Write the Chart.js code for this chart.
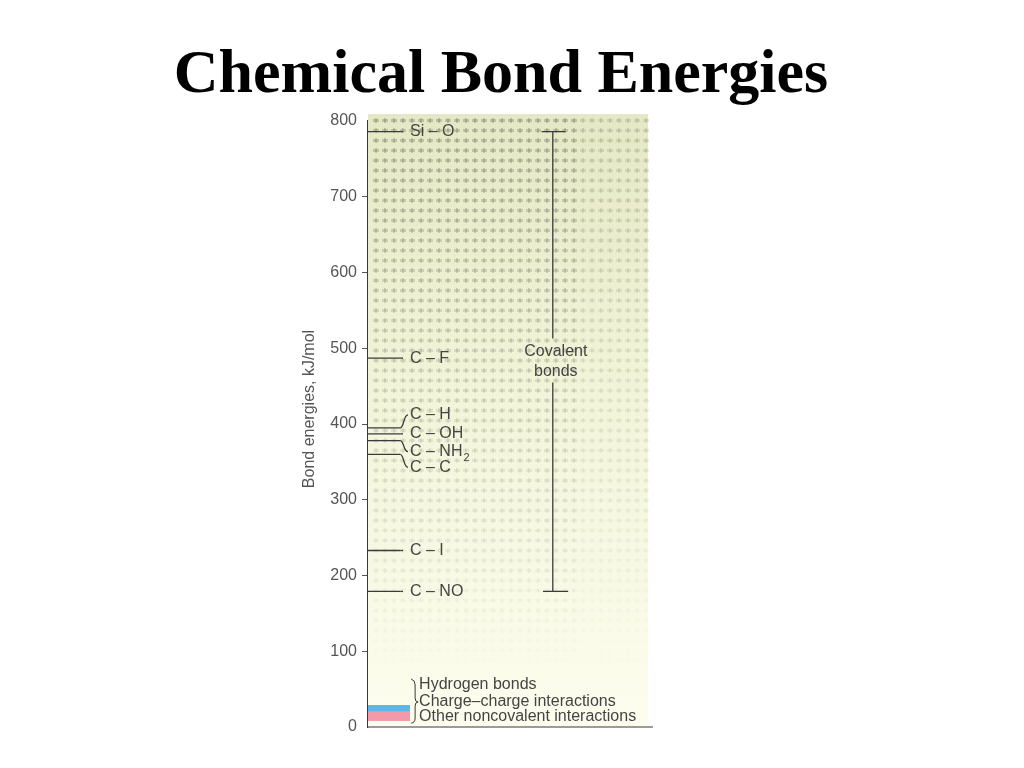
<!DOCTYPE html>
<html>
<head>
<meta charset="utf-8">
<title>Chemical Bond Energies</title>
<script src="https://cdn.jsdelivr.net/npm/chart.js@4.4.1/dist/chart.umd.min.js"></script>
<style>
  html, body { margin: 0; padding: 0; background: #fff; }
  #wrap { width: 1024px; height: 768px; }
</style>
</head>
<body>
<div id="wrap"><canvas id="chart" width="1024" height="768"></canvas></div>
<script>
// Bond energies (kJ/mol)
const bondLabels = ['Si – O', 'C – F', 'C – H', 'C – OH', 'C – NH_2', 'C – C', 'C – I', 'C – NO'];
const bondEnergies = [786, 487, 395, 387, 378, 360, 233, 179];

// Noncovalent interactions at the foot of the scale
const bandLabels = ['Hydrogen bonds', 'Charge–charge interactions', 'Other noncovalent interactions'];
const bandLow = [20, 8];
const bandHigh = [29, 20];

const yTicks = [0, 100, 200, 300, 400, 500, 600, 700, 800];

// label nudges (px) for the crowded C-H ... C-C group
const labelShift = [0, 0, -13, 0, 11, 13, 0, 0];

const SANS = '"Liberation Sans", Arial, sans-serif';
const INK = '#3a3a3a';

const figurePlugin = {
  id: 'figure',
  beforeDatasetsDraw(chart) {
    const { ctx, chartArea: a, scales: { x, y } } = chart;
    const top = a.top - 7;
    ctx.save();
    // tinted paper
    const g = ctx.createLinearGradient(0, top, 0, a.bottom);
    g.addColorStop(0, '#e5e8c4');
    g.addColorStop(0.45, '#f2f4d9');
    g.addColorStop(1, '#fdfdee');
    ctx.fillStyle = g;
    ctx.fillRect(a.left, top, a.right - a.left, a.bottom - top);
    // halftone screen, fading downwards
    for (let py = top + 5; py < a.bottom - 40; py += 10) {
      const k = 1 - (py - top) / (a.bottom - top - 60);
      if (k <= 0) break;
      for (let px = a.left + 5; px < a.right - 4; px += 9) {
        const fade = px > a.right - 70 ? 0.55 : 1;
        ctx.fillStyle = `rgba(105,110,90,${(0.32 * k * fade).toFixed(3)})`;
        ctx.fillRect(px, py, 6, 3);
        ctx.fillRect(px + 2, py - 1, 2, 5);
      }
    }
    // noncovalent bands
    const bx0 = x.getPixelForValue(0), bx1 = x.getPixelForValue(15);
    const colors = ['#5db6e4', '#f29aaa'];
    bandLow.forEach((lo, i) => {
      const y0 = y.getPixelForValue(bandHigh[i]);
      const y1 = y.getPixelForValue(lo);
      ctx.fillStyle = colors[i];
      ctx.fillRect(bx0, y0, bx1 - bx0, y1 - y0);
    });
    ctx.restore();
  },
  afterDatasetsDraw(chart) {
    const { ctx, chartArea: a, scales: { x, y } } = chart;
    ctx.save();
    ctx.strokeStyle = INK;
    ctx.lineWidth = 1.3;
    ctx.fillStyle = '#444';
    ctx.textBaseline = 'middle';
    ctx.textAlign = 'left';
    const lx = x.getPixelForValue(15);
    const ex = x.getPixelForValue(11.5);

    // connectors and bond labels
    bondEnergies.forEach((v, i) => {
      const py = y.getPixelForValue(v);
      const ty = py + labelShift[i];
      ctx.beginPath();
      ctx.moveTo(ex, py);
      if (labelShift[i] === 0) {
        ctx.lineTo(lx - 7, py);
      } else {
        ctx.bezierCurveTo(ex + 4, py, ex + 3, ty, lx - 2, ty);
      }
      ctx.stroke();

      const [main, sub] = bondLabels[i].split('_');
      ctx.font = '16px ' + SANS;
      ctx.fillText(main, lx, ty);
      if (sub) {
        const w = ctx.measureText(main).width;
        ctx.font = '11px ' + SANS;
        ctx.fillText(sub, lx + w + 1, ty + 6);
      }
    });

    // covalent bracket
    const cx = x.getPixelForValue(66);
    const yTop = y.getPixelForValue(Math.max(...bondEnergies));
    const yBot = y.getPixelForValue(Math.min(...bondEnergies));
    const mid = (yTop + yBot) / 2;
    ctx.beginPath();
    ctx.moveTo(x.getPixelForValue(62), yTop); ctx.lineTo(x.getPixelForValue(70.5), yTop);
    ctx.moveTo(cx, yTop); ctx.lineTo(cx, mid - 23);
    ctx.moveTo(cx, mid + 21); ctx.lineTo(cx, yBot);
    ctx.moveTo(x.getPixelForValue(62.5), yBot); ctx.lineTo(x.getPixelForValue(71.5), yBot);
    ctx.stroke();
    ctx.font = '16px ' + SANS;
    ctx.textAlign = 'center';
    ctx.fillText('Covalent', cx + 3, mid - 10);
    ctx.fillText('bonds', cx + 3, mid + 10);

    // noncovalent labels with a brace
    const b = a.bottom;
    const bx = x.getPixelForValue(15.4);
    ctx.lineWidth = 1;
    ctx.beginPath();
    ctx.moveTo(bx, b - 48);
    ctx.quadraticCurveTo(bx + 4, b - 47, bx + 4, b - 42);
    ctx.lineTo(bx + 4, b - 29);
    ctx.quadraticCurveTo(bx + 4, b - 25, bx + 7, b - 25);
    ctx.quadraticCurveTo(bx + 4, b - 25, bx + 4, b - 21);
    ctx.lineTo(bx + 4, b - 9);
    ctx.quadraticCurveTo(bx + 4, b - 4, bx, b - 4);
    ctx.stroke();
    ctx.textAlign = 'left';
    const ly = [b - 42, b - 25, b - 10];
    bandLabels.forEach((t, i) => ctx.fillText(t, bx + 8, ly[i]));

    ctx.restore();
  },
  afterDraw(chart) {
    const { ctx, chartArea: a, scales: { y } } = chart;
    ctx.save();
    // base line
    ctx.strokeStyle = INK;
    ctx.lineWidth = 1.2;
    const y0 = y.getPixelForValue(0);
    ctx.beginPath();
    ctx.moveTo(a.left, y0);
    ctx.lineTo(a.right + 5, y0);
    ctx.stroke();
    // title
    ctx.fillStyle = '#000';
    ctx.font = 'bold 62px "Liberation Serif", "Times New Roman", serif';
    ctx.textAlign = 'center';
    ctx.textBaseline = 'alphabetic';
    ctx.fillText('Chemical Bond Energies', 501, 92);
    // axis title
    ctx.translate(310, 409);
    ctx.rotate(-Math.PI / 2);
    ctx.fillStyle = '#555';
    ctx.font = '16px ' + SANS;
    ctx.textBaseline = 'middle';
    ctx.fillText('Bond energies, kJ/mol', 0, 0);
    ctx.restore();
  }
};

const datasets = bondEnergies.map((v, i) => ({
  label: bondLabels[i],
  data: [{ x: 0, y: v }, { x: 11.5, y: v }],
  borderColor: INK,
  borderWidth: 1.3,
  pointRadius: 0,
  fill: false
}));

new Chart(document.getElementById('chart'), {
  type: 'line',
  data: { datasets },
  options: {
    responsive: false,
    animation: false,
    layout: { padding: { left: 300, right: 376, top: 121, bottom: 41 } },
    plugins: {
      legend: { display: false },
      tooltip: { enabled: false },
      title: { display: false }
    },
    scales: {
      x: { type: 'linear', min: 0, max: 100, display: false },
      y: {
        min: 0,
        max: 800,
        afterFit: s => { s.width = 68; },
        afterBuildTicks: s => { s.ticks = yTicks.map(v => ({ value: v })); },
        ticks: {
          padding: 5,
          color: '#555',
          font: { family: SANS, size: 16 }
        },
        grid: {
          drawOnChartArea: false,
          drawTicks: true,
          tickLength: 6,
          color: c => (c.tick && (c.tick.value === 0 || c.tick.value === 800)) ? 'rgba(0,0,0,0)' : '#555'
        },
        border: { display: true, color: INK, width: 1.3 }
      }
    }
  },
  plugins: [figurePlugin]
});
</script>
</body>
</html>
